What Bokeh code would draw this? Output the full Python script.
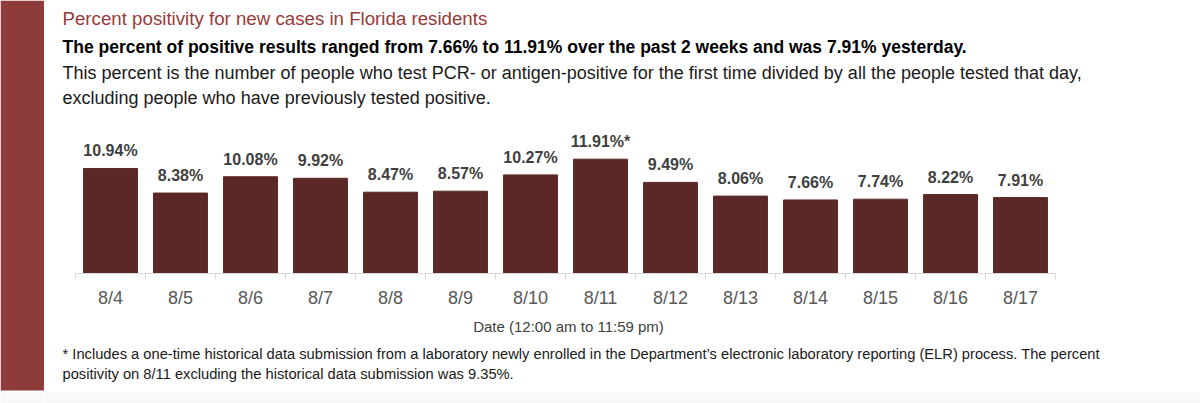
from bokeh.plotting import figure
from bokeh.layouts import row, column
from bokeh.models import (ColumnDataSource, Range1d, LinearAxis, FixedTicker, LabelSet)
from bokeh.core.properties import value
from bokeh.embed import file_html
from bokeh.resources import INLINE

# ---- data ----
dates = ["8/4", "8/5", "8/6", "8/7", "8/8", "8/9", "8/10", "8/11",
         "8/12", "8/13", "8/14", "8/15", "8/16", "8/17"]
values = [10.94, 8.38, 10.08, 9.92, 8.47, 8.57, 10.27, 11.91,
          9.49, 8.06, 7.66, 7.74, 8.22, 7.91]
notes = ["", "", "", "", "", "", "", "*", "", "", "", "", "", ""]

title_text = "Percent positivity for new cases in Florida residents"
bold_text = ("The percent of positive results ranged from 7.66% to 11.91% "
             "over the past 2 weeks and was 7.91% yesterday.")
desc_lines = ["This percent is the number of people who test PCR- or antigen-positive "
              "for the first time divided by all the people tested that day,",
              "excluding people who have previously tested positive."]
foot_lines = ["* Includes a one-time historical data submission from a laboratory newly "
              "enrolled in the Department\u2019s electronic laboratory reporting (ELR) "
              "process. The percent",
              "positivity on 8/11 excluding the historical data submission was 9.35%."]
x_title = "Date (12:00 am to 11:59 pm)"

FONT = "Liberation Sans"
BAND_W = 44
MAIN_W = 1156
MAIN_H = 313
FOOT_H = 90
AXIS_PANEL = 40
PX_PER_CAT = 70.0
PX_PER_PCT = 9.6
LEFT_PAD = 31  # px from main canvas edge to first category boundary

xs = list(range(len(dates)))
labels = ["{:.2f}%{}".format(v, n) for v, n in zip(values, notes)]
src = ColumnDataSource(dict(x=xs, top=values, label=labels))

TOTAL_H = MAIN_H + FOOT_H

# ---------- left band ----------
band = figure(width=BAND_W, height=TOTAL_H, output_backend="svg",
              toolbar_location=None, x_axis_type=None, y_axis_type=None,
              x_range=Range1d(0, BAND_W), y_range=Range1d(TOTAL_H, 0),
              min_border=0)
band.outline_line_color = None
band.grid.visible = False
band.quad(left=[0], right=[BAND_W], top=[0], bottom=[390],
          fill_color="#8E3B3B", line_color=None)
band.quad(left=[0], right=[BAND_W], top=[392], bottom=[TOTAL_H],
          fill_color="#f8f8f8", line_color=None)

# ---------- main chart ----------
frame_h = MAIN_H - AXIS_PANEL
x0 = -0.5 - LEFT_PAD / PX_PER_CAT
p = figure(width=MAIN_W, height=MAIN_H, output_backend="svg", toolbar_location=None,
           x_axis_type=None, y_axis_type=None,
           x_range=Range1d(x0, x0 + MAIN_W / PX_PER_CAT),
           y_range=Range1d(0, frame_h / PX_PER_PCT),
           min_border_left=0, min_border_right=0, min_border_top=0,
           min_border_bottom=AXIS_PANEL)
p.extra_x_ranges = {"px": Range1d(0, MAIN_W)}
p.extra_y_ranges = {"px": Range1d(frame_h, 0)}
p.outline_line_color = None
p.grid.visible = False

p.vbar(x="x", top="top", width=0.77, source=src,
       fill_color="#5B2825", line_color="#5B2825")

p.add_layout(LabelSet(x="x", y="top", text="label", source=src,
                      y_offset=12, text_align="center", text_baseline="alphabetic",
                      text_font=value(FONT), text_font_size="16px",
                      text_font_style="bold", text_color="#404040"))

ax = LinearAxis(ticker=FixedTicker(ticks=xs,
                                   minor_ticks=[i - 0.5 for i in range(len(dates) + 1)]))
ax.bounds = (-0.5, len(dates) - 0.5)
ax.major_label_overrides = {i: d for i, d in zip(xs, dates)}
ax.axis_line_color = "#d9d9d9"
ax.major_tick_line_color = None
ax.major_tick_out = 0
ax.major_tick_in = 0
ax.minor_tick_line_color = "#d9d9d9"
ax.minor_tick_out = 6
ax.minor_tick_in = 0
ax.major_label_text_font = FONT
ax.major_label_text_font_size = "18px"
ax.major_label_text_color = "#595959"
ax.major_label_standoff = 8
p.add_layout(ax, "below")

def txt(fig, text, x, y, size, color, style="normal"):
    fig.text(x=[x], y=[y], text=[text], x_range_name="px", y_range_name="px",
             text_font=value(FONT), text_font_size=size, text_font_style=style,
             text_color=color, text_align="left", text_baseline="middle")

txt(p, title_text, 18, 18, "18.7px", "#973B38")
txt(p, bold_text, 18, 46, "17.5px", "#000000", "bold")
txt(p, desc_lines[0], 18, 72, "18px", "#1a1a1a")
txt(p, desc_lines[1], 18, 97, "18px", "#1a1a1a")

# ---------- footer ----------
f = figure(width=MAIN_W, height=FOOT_H, output_backend="svg", toolbar_location=None,
           x_axis_type=None, y_axis_type=None,
           x_range=Range1d(0, MAIN_W), y_range=Range1d(FOOT_H, 0), min_border=0)
f.extra_x_ranges = {"px": Range1d(0, MAIN_W)}
f.extra_y_ranges = {"px": Range1d(FOOT_H, 0)}
f.outline_line_color = None
f.grid.visible = False
f.quad(left=[0], right=[MAIN_W], top=[FOOT_H - 11], bottom=[FOOT_H],
       fill_color="#f8f8f8", line_color=None)
f.text(x=[LEFT_PAD + 7 * PX_PER_CAT + 3], y=[13], text=[x_title],
       x_range_name="px", y_range_name="px",
       text_font=value(FONT), text_font_size="15px", text_color="#404040",
       text_align="center", text_baseline="middle")
txt(f, foot_lines[0], 18, 40, "14.7px", "#1a1a1a")
txt(f, foot_lines[1], 18, 60, "14.7px", "#1a1a1a")

layout = row(band, column(p, f, spacing=0), spacing=0)
open("out.html", "w").write(file_html(layout, INLINE))
